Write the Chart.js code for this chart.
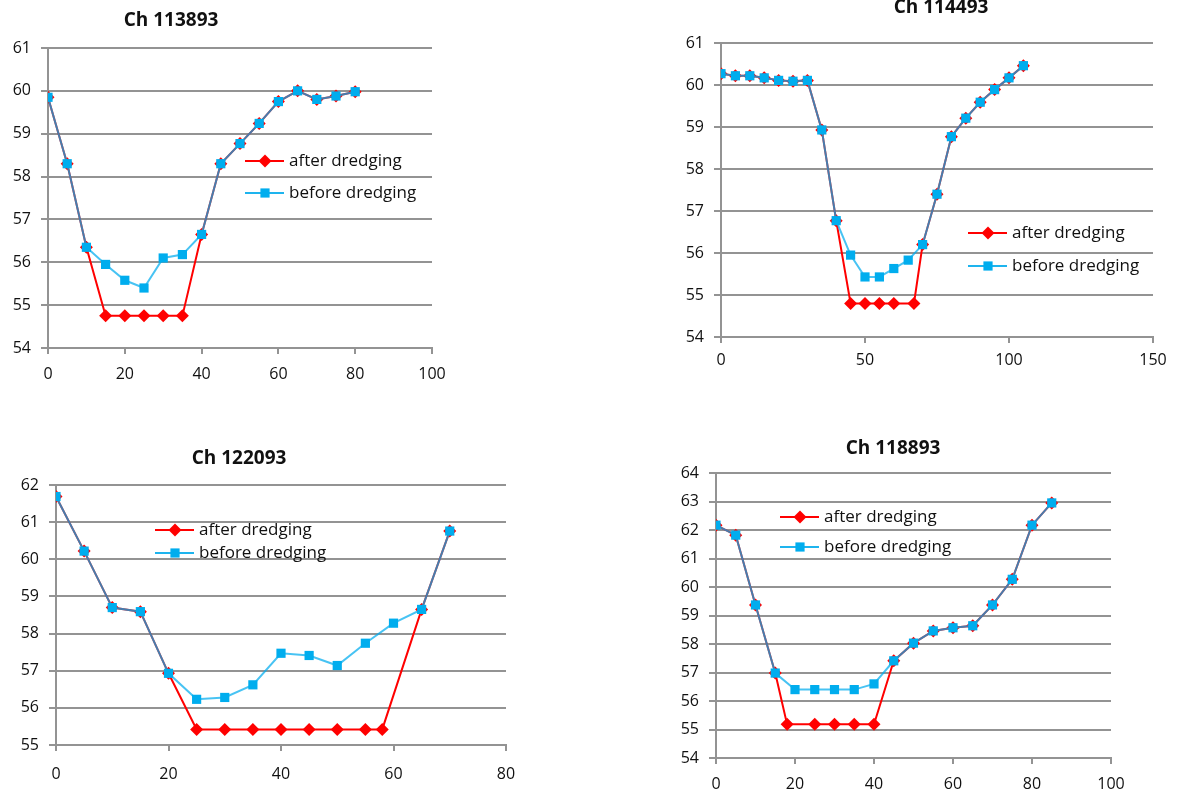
<!DOCTYPE html>
<html>
<head>
<meta charset="utf-8">
<script src="https://cdn.jsdelivr.net/npm/chart.js@4/dist/chart.umd.min.js"></script>
<style>
  html, body { margin: 0; padding: 0; background: #fff; }
  body { width: 1184px; height: 793px; position: relative; overflow: hidden; }
  canvas { position: absolute; }
</style>
</head>
<body>
<canvas id="c1"></canvas>
<canvas id="c2"></canvas>
<canvas id="c3"></canvas>
<canvas id="c4"></canvas>
<script>
// Ch 113893
var dist1 = [0, 5, 10, 15, 20, 25, 30, 35, 40, 45, 50, 55, 60, 65, 70, 75, 80];
var after1 = [59.85, 58.3, 56.35, 54.75, 54.75, 54.75, 54.75, 54.75, 56.65, 58.3, 58.77, 59.24, 59.75, 60.0, 59.8, 59.88, 59.98];
var before1 = [59.85, 58.3, 56.35, 55.95, 55.58, 55.4, 56.1, 56.18, 56.65, 58.3, 58.77, 59.24, 59.75, 60.0, 59.8, 59.88, 59.98];

// Ch 114493
var distAfter2 = [0, 5, 10, 15, 20, 25, 30, 35, 40, 45, 50, 55, 60, 67, 70, 75, 80, 85, 90, 95, 100, 105];
var after2 = [60.27, 60.22, 60.22, 60.17, 60.11, 60.09, 60.11, 58.93, 56.77, 54.8, 54.8, 54.8, 54.8, 54.8, 56.2, 57.4, 58.77, 59.21, 59.59, 59.89, 60.17, 60.46];
var distBefore2 = [0, 5, 10, 15, 20, 25, 30, 35, 40, 45, 50, 55, 60, 65, 70, 75, 80, 85, 90, 95, 100, 105];
var before2 = [60.27, 60.22, 60.22, 60.17, 60.11, 60.09, 60.11, 58.93, 56.77, 55.95, 55.43, 55.43, 55.63, 55.83, 56.2, 57.4, 58.77, 59.21, 59.59, 59.89, 60.17, 60.46];

// Ch 122093
var distAfter3 = [0, 5, 10, 15, 20, 25, 30, 35, 40, 45, 50, 55, 58, 65, 70];
var after3 = [61.69, 60.22, 58.7, 58.59, 56.93, 55.42, 55.42, 55.42, 55.42, 55.42, 55.42, 55.42, 55.42, 58.65, 60.76];
var distBefore3 = [0, 5, 10, 15, 20, 25, 30, 35, 40, 45, 50, 55, 60, 65, 70];
var before3 = [61.69, 60.22, 58.7, 58.59, 56.93, 56.23, 56.28, 56.62, 57.47, 57.41, 57.14, 57.74, 58.28, 58.65, 60.76];

// Ch 118893
var distAfter4 = [0, 5, 10, 15, 18, 25, 30, 35, 40, 45, 50, 55, 60, 65, 70, 75, 80, 85];
var after4 = [62.17, 61.82, 59.37, 56.98, 55.18, 55.18, 55.18, 55.18, 55.18, 57.41, 58.03, 58.46, 58.57, 58.64, 59.37, 60.27, 62.17, 62.95];
var distBefore4 = [0, 5, 10, 15, 20, 25, 30, 35, 40, 45, 50, 55, 60, 65, 70, 75, 80, 85];
var before4 = [62.17, 61.82, 59.37, 56.98, 56.4, 56.4, 56.4, 56.4, 56.6, 57.41, 58.03, 58.46, 58.57, 58.64, 59.37, 60.27, 62.17, 62.95];

var seriesNames = ['after dredging', 'before dredging'];

var GRID = '#939393';
var TEXT = '#111';
var Y_W = 40, X_H = 45;

function pts(xs, ys) {
  return xs.map(function (x, i) { return { x: x, y: ys[i] }; });
}

// title + line/marker legend drawn at fixed spots
var sketchPlugin = {
  id: 'sketch',
  afterDatasetsDraw: function (chart, args, o) {
    var ctx = chart.ctx;
    ctx.save();
    ctx.fillStyle = TEXT;
    ctx.font = 'bold 19px "Open Sans"';
    ctx.textAlign = 'center';
    ctx.textBaseline = 'middle';
    ctx.fillText(o.title, o.titleX, o.titleY);

    ctx.font = '17px "Open Sans"';
    ctx.textAlign = 'left';
    chart.data.datasets.forEach(function (ds, i) {
      var y = o.legY + i * o.legGap;
      ctx.strokeStyle = ds.legendColor;
      ctx.lineWidth = 2;
      ctx.beginPath();
      ctx.moveTo(o.legX, y);
      ctx.lineTo(o.legX + 39, y);
      ctx.stroke();
      ctx.fillStyle = ds.pointBackgroundColor;
      Chart.helpers.drawPoint(ctx, { pointStyle: ds.pointStyle, radius: ds.pointRadius, borderWidth: 0, rotation: 0 }, o.legX + 20, y);
      ctx.fillStyle = TEXT;
      ctx.fillText(ds.label, o.legX + 44, y);
    });
    ctx.restore();
  }
};

function makeChart(id, c) {
  var cv = document.getElementById(id);
  cv.width = c.box[2];
  cv.height = c.box[3];
  cv.style.left = c.box[0] + 'px';
  cv.style.top = c.box[1] + 'px';

  var off = { title: c.title,
    titleX: c.titleAt[0] - c.box[0], titleY: c.titleAt[1] - c.box[1],
    legX: c.legend[0] - c.box[0], legY: c.legend[1] - c.box[1], legGap: c.legend[2] };

  return new Chart(cv.getContext('2d'), {
    type: 'scatter',
    data: {
      datasets: [{
        label: seriesNames[0],
        data: c.after,
        showLine: true,
        borderColor: '#ff0000',
        legendColor: '#ff0000',
        borderWidth: 2,
        pointStyle: 'rectRot',
        pointRadius: 6.5,
        pointBorderWidth: 0,
        pointBackgroundColor: '#ff0000',
        order: 1
      }, {
        label: seriesNames[1],
        data: c.before,
        showLine: true,
        borderColor: 'rgba(0, 172, 238, 0.72)',
        legendColor: '#1eb4ee',
        borderWidth: 2,
        pointStyle: 'rect',
        pointRadius: 6.5,
        pointBorderWidth: 0,
        pointBackgroundColor: '#00adee',
        order: 0
      }]
    },
    options: {
      responsive: false,
      animation: false,
      layout: {
        padding: {
          left: c.area[0] - c.box[0] - Y_W,
          top: c.area[1] - c.box[1],
          right: c.box[0] + c.box[2] - c.area[2],
          bottom: c.box[1] + c.box[3] - c.area[3] - X_H
        }
      },
      plugins: {
        legend: { display: false },
        tooltip: { enabled: false },
        sketch: off
      },
      scales: {
        x: {
          type: 'linear',
          min: 0,
          max: c.xMax,
          afterFit: function (s) { s.height = X_H; },
          ticks: { stepSize: c.xStep, padding: c.xPad, color: TEXT, font: { family: 'Open Sans', size: 16 } },
          grid: { drawOnChartArea: false, tickLength: 6, color: GRID, lineWidth: 2 },
          border: { color: GRID, width: 2 }
        },
        y: {
          min: c.yMin,
          max: c.yMax,
          afterFit: function (s) { s.width = Y_W; },
          ticks: { stepSize: 1, padding: 10, color: TEXT, font: { family: 'Open Sans', size: 16 } },
          grid: { tickLength: 7, color: GRID, lineWidth: 2 },
          border: { color: GRID, width: 2 }
        }
      }
    },
    plugins: [sketchPlugin]
  });
}

makeChart('c1', {
  box: [0, 0, 592, 410], area: [48, 48, 432, 348],
  xMax: 100, xStep: 20, xPad: 11, yMin: 54, yMax: 61,
  after: pts(dist1, after1), before: pts(dist1, before1),
  title: 'Ch 113893', titleAt: [171, 21], legend: [245, 161, 32]
});
makeChart('c2', {
  box: [592, 0, 592, 410], area: [721, 43, 1153, 337],
  xMax: 150, xStep: 50, xPad: 8, yMin: 54, yMax: 61,
  after: pts(distAfter2, after2), before: pts(distBefore2, before2),
  title: 'Ch 114493', titleAt: [941, 8], legend: [968, 233, 33]
});
makeChart('c3', {
  box: [0, 420, 592, 390], area: [56, 485, 506, 745],
  xMax: 80, xStep: 20, xPad: 14, yMin: 55, yMax: 62,
  after: pts(distAfter3, after3), before: pts(distBefore3, before3),
  title: 'Ch 122093', titleAt: [239, 459], legend: [155, 530, 23]
});
makeChart('c4', {
  box: [592, 420, 592, 390], area: [716, 473, 1111, 758],
  xMax: 100, xStep: 20, xPad: 11, yMin: 54, yMax: 64,
  after: pts(distAfter4, after4), before: pts(distBefore4, before4),
  title: 'Ch 118893', titleAt: [893, 449], legend: [780, 517, 30]
});
</script>
</body>
</html>
